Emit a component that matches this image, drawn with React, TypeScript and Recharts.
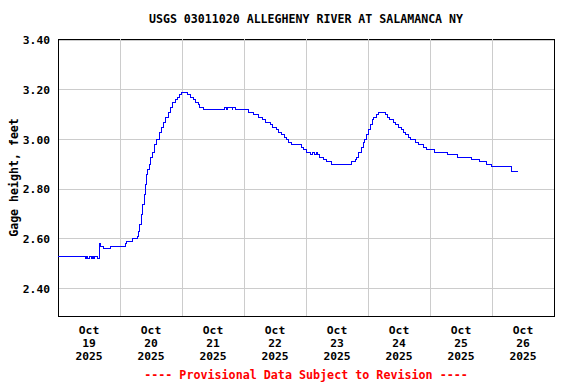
import { LineChart, Line, XAxis, YAxis, CartesianGrid, ReferenceLine, ReferenceArea } from 'recharts';

// hours since Oct 19 2025 00:00, and the gage height from that time on
const stepHours = [
  0, 10.6, 11.0, 11.6, 12.1, 12.9, 13.5, 13.8, 14.2, 15.2, 15.9, 16.5, 17.8, 20.5,
  26.0, 26.7, 29.0, 30.6, 31.2, 31.7, 32.3, 32.9, 33.3, 33.7, 34.1, 34.6, 35.3, 35.8,
  36.4, 37.2, 38.2, 39.1, 39.9, 40.8, 41.7, 42.6, 43.4, 44.3, 45.3, 46.1, 47.0, 47.9,
  50.0, 51.1, 52.3, 53.4, 54.2, 54.8, 56.2, 64.6, 65.2, 65.6, 67.4, 67.7, 68.9, 73.9,
  75.5, 77.8, 79.0, 80.5, 82.1, 83.2, 84.4, 85.5, 86.7, 87.7, 88.6, 89.4, 90.5, 94.3,
  95.2, 96.0, 97.9, 98.7, 99.3, 99.9, 100.6, 101.4, 102.6, 104.1, 106.0, 113.8, 115.0,
  115.7, 116.5, 117.3, 118.1, 118.8, 119.4, 120.0, 120.8, 121.6, 122.3, 123.1, 124.0,
  126.6, 127.6, 128.5, 129.7, 130.8, 131.8, 132.8, 133.7, 134.7, 135.7, 136.6, 138.2,
  139.7, 141.3, 142.7, 145.9, 150.6, 154.8, 159.9, 163.0, 166.0, 167.9, 175.6, 178.0,
];
const gageFeet = [
  2.53, 2.52, 2.53, 2.52, 2.53, 2.52, 2.53, 2.52, 2.53, 2.52, 2.58, 2.57, 2.56, 2.57,
  2.58, 2.59, 2.6, 2.61, 2.63, 2.66, 2.7, 2.74, 2.78, 2.82, 2.86, 2.88, 2.9, 2.93,
  2.95, 2.98, 3.0, 3.03, 3.05, 3.07, 3.09, 3.11, 3.13, 3.15, 3.16, 3.17, 3.18, 3.19,
  3.18, 3.17, 3.16, 3.15, 3.14, 3.13, 3.12, 3.13, 3.12, 3.13, 3.12, 3.13, 3.12, 3.11,
  3.1, 3.09, 3.08, 3.07, 3.06, 3.05, 3.04, 3.03, 3.02, 3.01, 3.0, 2.99, 2.98, 2.97,
  2.96, 2.95, 2.94, 2.95, 2.94, 2.95, 2.94, 2.93, 2.92, 2.91, 2.9, 2.91, 2.92,
  2.93, 2.95, 2.97, 2.99, 3.0, 3.02, 3.04, 3.06, 3.08, 3.09, 3.1, 3.11,
  3.1, 3.09, 3.08, 3.07, 3.06, 3.05, 3.04, 3.03, 3.02, 3.01, 3.0, 2.99,
  2.98, 2.97, 2.96, 2.95, 2.94, 2.93, 2.92, 2.91, 2.9, 2.89, 2.87, 2.87,
];

const dayLabels = ['19', '20', '21', '22', '23', '24', '25', '26'];
const dayTicks = [12, 36, 60, 84, 108, 132, 156, 180];
const midnights = [24, 48, 72, 96, 120, 144, 168];
const yTicks = [2.4, 2.6, 2.8, 3.0, 3.2, 3.4];

const data = stepHours.map((h, i) => ({ h, v: gageFeet[i] }));

const FONT = '"DejaVu Sans Mono", monospace';

// the chart fills the whole page, so drop the default body margin
if (typeof document !== 'undefined') {
  document.body.style.margin = '0';
  document.body.style.overflow = 'hidden';
}

function DayTick({ x, y, payload }: any) {
  const i = dayTicks.indexOf(payload.value);
  return (
    <text x={x} textAnchor="middle" fontFamily={FONT} fontWeight="bold" fontSize={11.3} fill="#000">
      <tspan x={x} y={y + 10}>Oct</tspan>
      <tspan x={x} y={y + 23}>{dayLabels[i]}</tspan>
      <tspan x={x} y={y + 36}>2025</tspan>
    </text>
  );
}

export default function App() {
  return (
    <div style={{ position: 'relative', width: 576, height: 384, background: '#fff' }}>
      <div
        style={{
          position: 'absolute', top: 12, left: 0, width: 612, textAlign: 'center', zIndex: 1,
          fontFamily: FONT, fontWeight: 'bold', fontSize: 11.6, lineHeight: '14px',
        }}
      >
        USGS 03011020 ALLEGHENY RIVER AT SALAMANCA NY
      </div>
      <div
        style={{
          position: 'absolute', top: 368, left: 0, width: 612, textAlign: 'center', color: '#ff0000', zIndex: 1,
          fontFamily: FONT, fontWeight: 'bold', fontSize: 11.7, lineHeight: '14px',
        }}
      >
        ---- Provisional Data Subject to Revision ----
      </div>
      <LineChart width={576} height={384} data={data} margin={{ top: 39, right: 22, bottom: 8, left: 8 }}>
        <CartesianGrid vertical={false} stroke="#cccccc" shapeRendering="crispEdges" />
        {midnights.map((m) => (
          <ReferenceLine key={m} x={m} stroke="#cccccc" shapeRendering="crispEdges" />
        ))}
        <XAxis
          dataKey="h"
          type="number"
          domain={[0, 192]}
          ticks={dayTicks}
          tick={<DayTick />}
          axisLine={false}
          tickLine={false}
          height={60}
          interval={0}
        />
        <YAxis
          type="number"
          domain={[2.29, 3.405]}
          ticks={yTicks}
          tickFormatter={(v: number) => v.toFixed(2)}
          tick={{ fontFamily: FONT, fontWeight: 'bold', fontSize: 11.3, fill: '#000' }}
          axisLine={false}
          tickLine={false}
          width={50}
          allowDataOverflow
          label={{
            value: 'Gage height, feet', angle: -90, position: 'insideLeft', dx: 1,
            style: { fontFamily: FONT, fontWeight: 'bold', fontSize: 11.6, fill: '#000', textAnchor: 'middle' },
          }}
        />
        <Line
          type="stepAfter"
          dataKey="v"
          stroke="#0000ff"
          strokeWidth={1}
          dot={false}
          isAnimationActive={false}
          shapeRendering="crispEdges"
        />
        <ReferenceArea x1={0} x2={192} y1={2.29} y2={3.405} fill="none" stroke="#000" strokeWidth={1} shapeRendering="crispEdges" />
      </LineChart>
    </div>
  );
}
